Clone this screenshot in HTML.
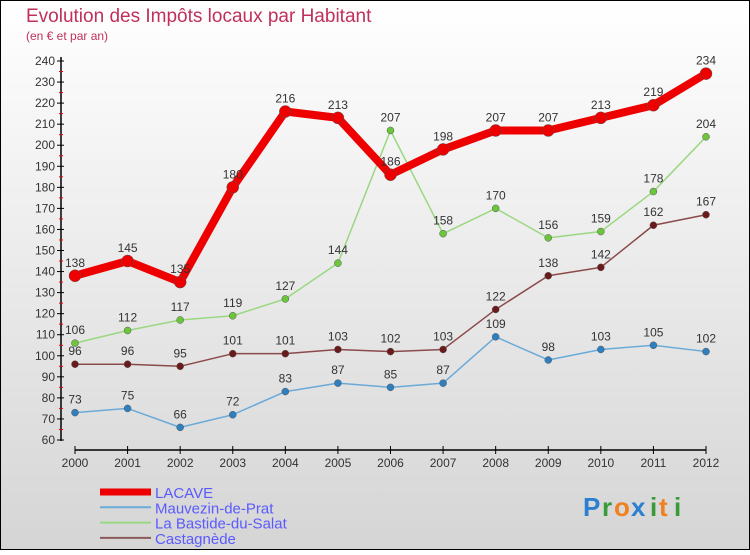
<!DOCTYPE html>
<html><head><meta charset="utf-8"><style>
html,body{margin:0;padding:0}
body{width:750px;height:550px;overflow:hidden;font-family:"Liberation Sans",sans-serif}
</style></head><body>
<svg id="chart" width="750" height="550" xmlns="http://www.w3.org/2000/svg" font-family="Liberation Sans, sans-serif">
<defs><linearGradient id="bg" x1="0" y1="0" x2="0" y2="1"><stop offset="0" stop-color="#ffffff"/><stop offset="1" stop-color="#d5d5d5"/></linearGradient></defs>
<rect x="0.5" y="0.5" width="749" height="549" fill="url(#bg)" stroke="#000"/>
<text x="26" y="22" font-size="19" fill="#c0305a">Evolution des Impôts locaux par Habitant</text>
<text x="26" y="40" font-size="12" fill="#c0305a">(en € et par an)</text>
<g id="axes"></g>
<g id="series"></g>
<g id="legend"></g>
<g font-size="26" font-weight="bold">
<text x="583" y="516" fill="#2a7fd0">P</text><text x="602" y="516" fill="#3a9a3a">r</text><text x="614" y="516" fill="#f08020">o</text><text x="631" y="516" fill="#2a7fd0">x</text><text x="650" y="516" fill="#3a9a3a">i</text><text x="659" y="516" fill="#f08020">t</text><text x="674" y="516" fill="#3a9a3a">i</text>
</g>
</svg>
<script>
const years=["2000","2001","2002","2003","2004","2005","2006","2007","2008","2009","2010","2011","2012"];
const lacave=[138,145,135,180,216,213,186,198,207,207,213,219,234];
const mauvezin=[73,75,66,72,83,87,85,87,109,98,103,105,102];
const bastide=[106,112,117,119,127,144,207,158,170,156,159,178,204];
const castagnede=[96,96,95,101,101,103,102,103,122,138,142,162,167];
const yTicks=[60,70,80,90,100,110,120,130,140,150,160,170,180,190,200,210,220,230,240];
const NS="http://www.w3.org/2000/svg";
const x=i=>75+i*(706-75)/(years.length-1);
const y=v=>440-(v-60)*(440-61)/180;
function mk(tag,attrs,parent){const e=document.createElementNS(NS,tag);for(const k in attrs)e.setAttribute(k,attrs[k]);parent.appendChild(e);return e;}
const ax=document.getElementById('axes');
let e=mk('line',{x1:61,y1:57,x2:61,y2:441,stroke:'#000','stroke-width':1.5},ax);


yTicks.forEach(v=>{
 mk('line',{x1:57,y1:y(v),x2:64,y2:y(v),stroke:'#000'},ax);
 if(v<240) mk('line',{x1:59,y1:y(v+5),x2:63,y2:y(v+5),stroke:'#e00'},ax);
 const t=mk('text',{x:55,y:y(v)+4,'font-size':12,'text-anchor':'end',fill:'#333'},ax);
 t.textContent=v;
 
 
});
e=mk('line',{x1:75,y1:450,x2:706,y2:450,stroke:'#000','stroke-width':1.5},ax);


years.forEach((yr,i)=>{
 mk('line',{x1:x(i),y1:446,x2:x(i),y2:454,stroke:'#000'},ax);
 const t=mk('text',{x:x(i),y:467,'font-size':12,'text-anchor':'middle',fill:'#333'},ax);
 t.textContent=yr;
 
 
});
const sg=document.getElementById('series');
function draw(name,data,color,dot,w,r){
 const g=mk('g',{},sg);
 
 
 mk('polyline',{points:data.map((v,i)=>x(i)+','+y(v)).join(' '),fill:'none',stroke:color,'stroke-width':w,'stroke-linejoin':'round'},g);
 data.forEach((v,i)=>{
  const c=mk('circle',{cx:x(i),cy:y(v),r:r,fill:dot,stroke:'#555','stroke-width':0.5},g);
  
  
  const t=mk('text',{x:x(i),y:y(v)-9,'font-size':12,'text-anchor':'middle',fill:'#333'},g);
  t.textContent=v;
  
  
 });
}
draw('mauvezin',mauvezin,'#6aaad8','#2f7fbf',1.5,3.5);
draw('castagnede',castagnede,'#8a4a4a','#6a1a1a',1.5,3.5);
draw('bastide',bastide,'#9ad880','#6cc63c',1.5,3.5);
draw('lacave',lacave,'#ee0000','#ee0000',8,6);
const lg=document.getElementById('legend');
[['LACAVE','#ee0000',7],['Mauvezin-de-Prat','#6aaad8',2],['La Bastide-du-Salat','#9ad880',2],['Castagnède','#8a5a5a',2]].forEach((d,i)=>{
 const yy=492+i*15.3;
 const g=mk('g',{},lg);
 
 
 mk('line',{x1:100,y1:yy,x2:151,y2:yy,stroke:d[1],'stroke-width':d[2]},g);
 const t=mk('text',{x:155,y:yy+6,'font-size':15,fill:'#5a5aff'},g);
 t.textContent=d[0];
});
</script>
</body></html>
